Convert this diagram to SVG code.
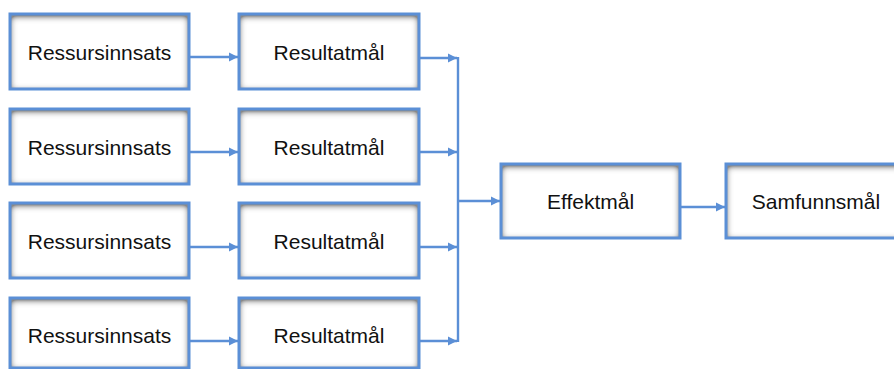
<svg xmlns="http://www.w3.org/2000/svg" width="894" height="369" viewBox="0 0 894 369">
  <style>
    .box { fill: #ffffff; filter: url(#inset); }
    .frame { fill: none; stroke: #5b8fd6; stroke-width: 3; }
    .label { font-family: "Liberation Sans", Arial, sans-serif; font-size: 21px; fill: #111111; text-anchor: middle; }
    .conn { fill: none; stroke: #5b8fd6; stroke-width: 2.4; }
  </style>
  <defs>
    <!-- soft grey bevel drawn inside each box -->
    <filter id="inset" x="-10%" y="-20%" width="120%" height="140%">
      <feFlood flood-color="#000000" result="c"/>
      <feComposite in="c" in2="SourceAlpha" operator="out" result="outside"/>
      <feOffset in="outside" dy="1.5" result="off"/>
      <feGaussianBlur in="off" stdDeviation="3.5" result="blur"/>
      <feComposite in="blur" in2="SourceAlpha" operator="in" result="shadow"/>
      <feColorMatrix in="shadow" type="matrix" values="0 0 0 0 0.25  0 0 0 0 0.25  0 0 0 0 0.25  0 0 0 1.9 0" result="shade"/>
      <feMerge>
        <feMergeNode in="SourceGraphic"/>
        <feMergeNode in="shade"/>
      </feMerge>
    </filter>
    <marker id="arrow" viewBox="0 0 10 10" refX="10" refY="5" markerWidth="4" markerHeight="3.8" orient="auto" markerUnits="strokeWidth">
      <path d="M0,0 L10,5 L0,10 z" fill="#5b8fd6"/>
    </marker>
  </defs>

  <!-- connectors -->
  <g id="connectors">
    <line class="conn" x1="189" y1="57" x2="238" y2="57" marker-end="url(#arrow)"/>
    <line class="conn" x1="189" y1="152" x2="238" y2="152" marker-end="url(#arrow)"/>
    <line class="conn" x1="189" y1="247" x2="238" y2="247" marker-end="url(#arrow)"/>
    <line class="conn" x1="189" y1="341" x2="238" y2="341" marker-end="url(#arrow)"/>

    <line class="conn" x1="419" y1="58" x2="457" y2="58" marker-end="url(#arrow)"/>
    <line class="conn" x1="419" y1="152" x2="457" y2="152" marker-end="url(#arrow)"/>
    <line class="conn" x1="419" y1="247" x2="457" y2="247" marker-end="url(#arrow)"/>
    <line class="conn" x1="419" y1="341" x2="457" y2="341" marker-end="url(#arrow)"/>

    <line class="conn" x1="458" y1="57" x2="458" y2="342"/>
    <line class="conn" x1="458" y1="201" x2="500" y2="201" marker-end="url(#arrow)"/>
    <line class="conn" x1="680" y1="207" x2="725" y2="207" marker-end="url(#arrow)"/>
  </g>

  <!-- input boxes -->
  <g id="ressurs1">
    <rect class="box" x="10" y="14" width="179" height="75"/>
    <rect class="frame" x="10" y="14" width="179" height="75"/>
    <text class="label" x="99.5" y="60">Ressursinnsats</text>
  </g>
  <g id="ressurs2">
    <rect class="box" x="10" y="109" width="179" height="75"/>
    <rect class="frame" x="10" y="109" width="179" height="75"/>
    <text class="label" x="99.5" y="155">Ressursinnsats</text>
  </g>
  <g id="ressurs3">
    <rect class="box" x="10" y="203" width="179" height="75"/>
    <rect class="frame" x="10" y="203" width="179" height="75"/>
    <text class="label" x="99.5" y="249">Ressursinnsats</text>
  </g>
  <g id="ressurs4">
    <rect class="box" x="10" y="298" width="179" height="70"/>
    <rect class="frame" x="10" y="298" width="179" height="70"/>
    <text class="label" x="99.5" y="343">Ressursinnsats</text>
  </g>

  <!-- result boxes -->
  <g id="resultat1">
    <rect class="box" x="239" y="14" width="180" height="75"/>
    <rect class="frame" x="239" y="14" width="180" height="75"/>
    <text class="label" x="329" y="60">Resultatmål</text>
  </g>
  <g id="resultat2">
    <rect class="box" x="239" y="109" width="180" height="75"/>
    <rect class="frame" x="239" y="109" width="180" height="75"/>
    <text class="label" x="329" y="155">Resultatmål</text>
  </g>
  <g id="resultat3">
    <rect class="box" x="239" y="203" width="180" height="75"/>
    <rect class="frame" x="239" y="203" width="180" height="75"/>
    <text class="label" x="329" y="249">Resultatmål</text>
  </g>
  <g id="resultat4">
    <rect class="box" x="239" y="298" width="180" height="70"/>
    <rect class="frame" x="239" y="298" width="180" height="70"/>
    <text class="label" x="329" y="343">Resultatmål</text>
  </g>

  <!-- outcome boxes -->
  <g id="effekt">
    <rect class="box" x="501" y="164" width="179" height="74"/>
    <rect class="frame" x="501" y="164" width="179" height="74"/>
    <text class="label" x="590.5" y="209">Effektmål</text>
  </g>
  <g id="samfunn">
    <rect class="box" x="726" y="164" width="180" height="74"/>
    <rect class="frame" x="726" y="164" width="180" height="74"/>
    <text class="label" x="816" y="209">Samfunnsmål</text>
  </g>
</svg>
